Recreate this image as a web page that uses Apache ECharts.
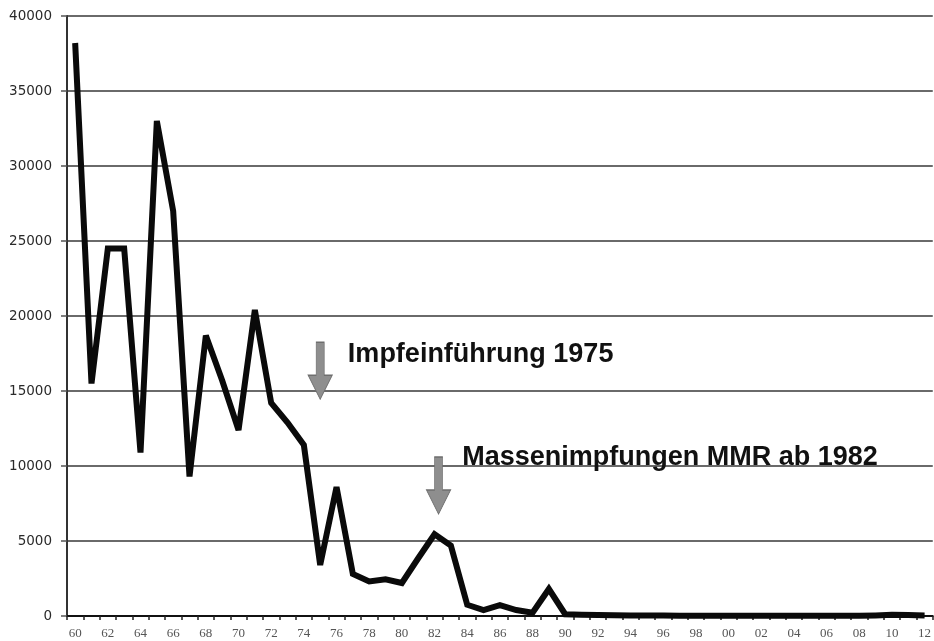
<!DOCTYPE html>
<html>
<head>
<meta charset="utf-8">
<script src="https://cdn.jsdelivr.net/npm/echarts@6/dist/echarts.min.js"></script>
<style>
  html, body { margin: 0; padding: 0; background: #fff; }
  #chart { width: 934px; height: 641px; }
</style>
</head>
<body>
<div id="chart"></div>
<script>
// Jahre 1960-2012, als zweistellige Beschriftung
const years = [
  "60", "61", "62", "63", "64", "65", "66", "67", "68", "69",
  "70", "71", "72", "73", "74", "75", "76", "77", "78", "79",
  "80", "81", "82", "83", "84", "85", "86", "87", "88", "89",
  "90", "91", "92", "93", "94", "95", "96", "97", "98", "99",
  "00", "01", "02", "03", "04", "05", "06", "07", "08", "09",
  "10", "11", "12"
];

// Fallzahlen pro Jahr (aus dem Bild geschätzt)
const cases = [
  38200, 15500, 24500, 24500, 10900, 33000, 27000, 9300, 18700, 15700,
  12400, 20400, 14200, 12900, 11400, 3400, 8600, 2800, 2300, 2450,
  2200, 3850, 5450, 4700, 750, 400, 730, 400, 220, 1800,
  120, 80, 60, 50, 40, 30, 30, 20, 20, 20,
  20, 20, 20, 20, 20, 20, 20, 20, 20, 40,
  80, 60, 40
];

const yTicks = [0, 5000, 10000, 15000, 20000, 25000, 30000, 35000, 40000];

// Anmerkungen mit Pfeil
const notes = [
  { year: "75", value: 16350, text: "Impfeinführung 1975", dx: 40, dy: 13, shift: 0 },
  { year: "82", value: 8700, text: "Massenimpfungen MMR ab 1982", dx: 36, dy: 1, shift: 4 }
];

const arrow = "path://M8,0 L16,0 L16,33 L24,33 L12,57 L0,33 L8,33 Z";

var myChart = echarts.init(document.getElementById("chart"));
var option = {
  animation: false,
  backgroundColor: "#ffffff",
  grid: {
    left: 67,
    top: 16,
    width: 875,
    height: 600
  },
  xAxis: {
    type: "category",
    data: years,
    boundaryGap: true,
    axisLine: {
      lineStyle: { color: "#111", width: 2 }
    },
    axisTick: {
      show: true,
      interval: 0,
      length: 4,
      lineStyle: { color: "#222", width: 1.5 }
    },
    axisLabel: {
      interval: 1,
      margin: 11,
      fontFamily: "Liberation Serif",
      fontSize: 13,
      color: "#555"
    },
    splitLine: { show: false }
  },
  yAxis: {
    type: "value",
    min: 0,
    max: 40000,
    interval: 5000,
    axisLine: {
      show: true,
      lineStyle: { color: "#333", width: 2 }
    },
    axisTick: {
      show: true,
      length: 6,
      lineStyle: { color: "#555", width: 1.5 }
    },
    axisLabel: {
      margin: 15,
      fontFamily: "DejaVu Sans",
      fontSize: 13.5,
      color: "#2a2a2a",
      formatter: v => (yTicks.includes(v) ? String(v) : "")
    },
    splitLine: {
      lineStyle: { color: "#6a6a6a", width: 2 }
    }
  },
  series: [
    {
      type: "line",
      data: cases,
      symbol: "none",
      lineStyle: {
        color: "#0a0a0a",
        width: 6,
        join: "miter",
        miterLimit: 4
      },
      markPoint: {
        symbol: arrow,
        symbolSize: [24, 57],
        symbolKeepAspect: false,
        itemStyle: {
          color: "#8e8e8e",
          borderColor: "#6e6e6e",
          borderWidth: 1
        },
        data: notes.map(n => ({
          coord: [n.year, n.value],
          symbolOffset: [n.shift, 0],
          label: {
            show: true,
            formatter: n.text,
            position: [n.dx, n.dy],
            align: "left",
            verticalAlign: "middle",
            fontFamily: "Liberation Sans",
            fontWeight: "bold",
            fontSize: 27,
            color: "#111"
          }
        }))
      }
    }
  ]
};

myChart.setOption(option);
</script>
</body>
</html>
